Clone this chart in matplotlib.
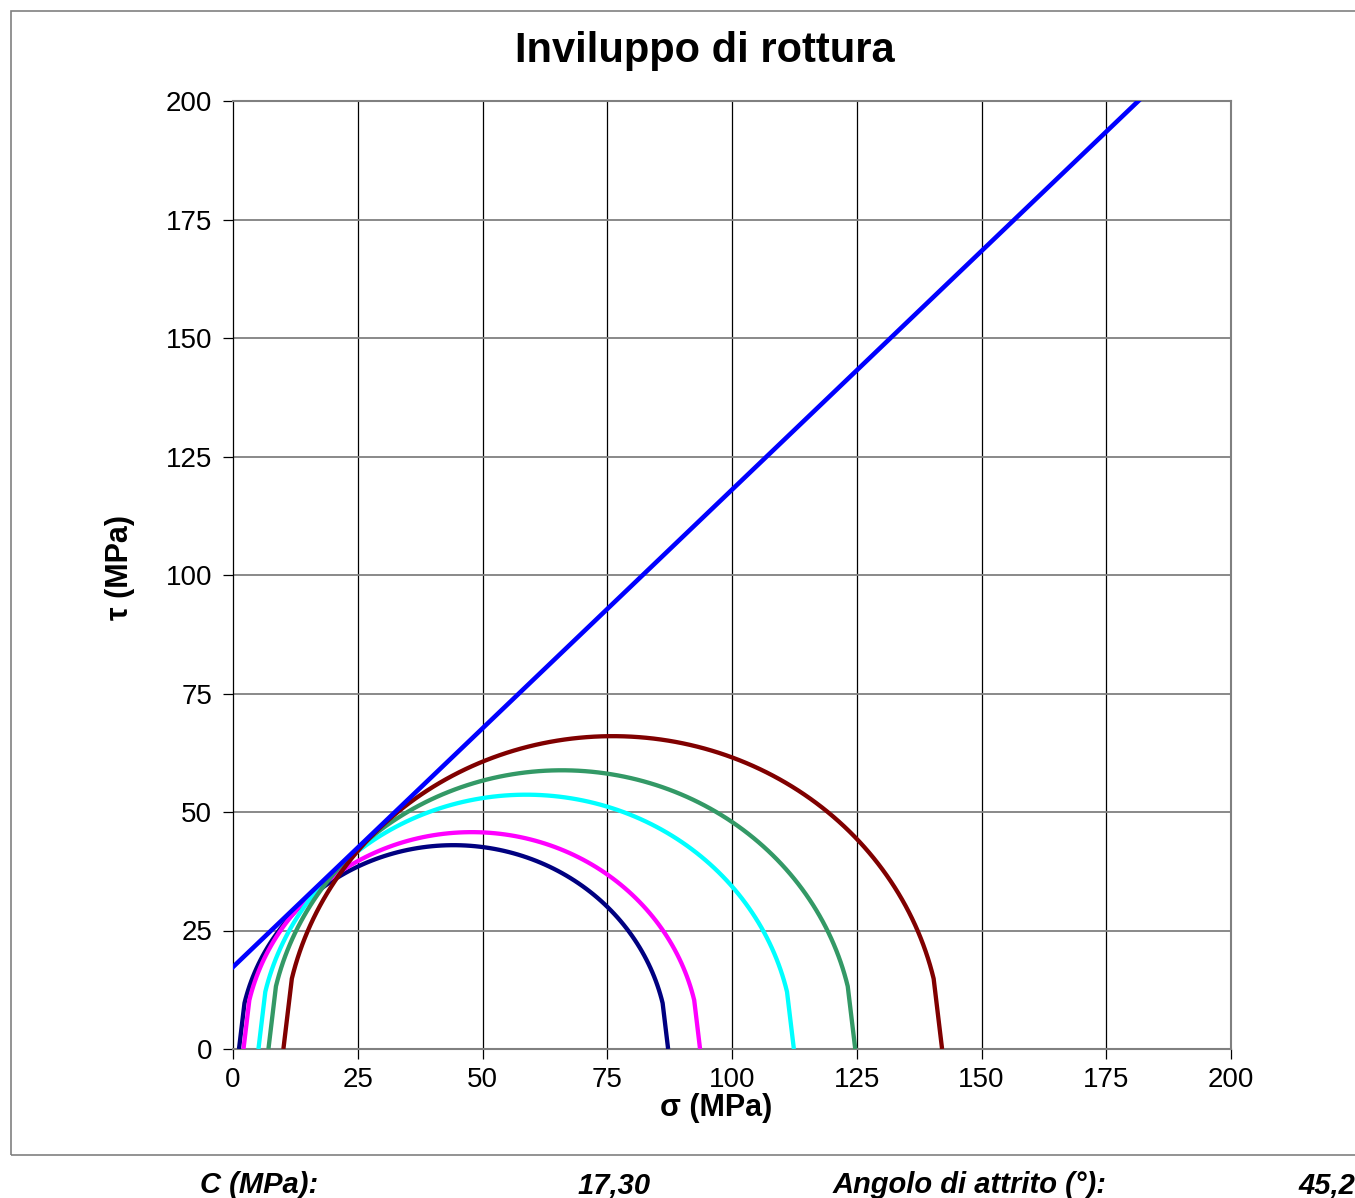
import numpy as np
import matplotlib
matplotlib.use("Agg")
import matplotlib.pyplot as plt
from matplotlib.patches import Rectangle

# Data
sigma3 = [1.2, 2.1, 5.1, 7.1, 10.1]          # MPa, left end of each Mohr circle
sigma1 = [87.2, 93.6, 112.4, 124.7, 142.1]   # MPa, right end of each Mohr circle
circle_colors = ["#000080", "#FF00FF", "#00FFFF", "#339966", "#800000"]
C_value = 17.30      # cohesion, MPa
phi_deg = 45.2       # friction angle, degrees
xticks = [0, 25, 50, 75, 100, 125, 150, 175, 200]
yticks = [0, 25, 50, 75, 100, 125, 150, 175, 200]

plt.rcParams['font.family'] = ['Liberation Sans', 'DejaVu Sans']

W, H = 1355, 1198
fig = plt.figure(figsize=(W / 100, H / 100), dpi=100)
ax = fig.add_axes([233 / W, 1 - 1049 / H, (1231 - 233) / W, (1049 - 101) / H])

# outer chart border
fig.patches.append(Rectangle((11 / W, 1 - 1155 / H), 1.2, (1155 - 11) / H,
                             transform=fig.transFigure, fill=False,
                             edgecolor="#808080", linewidth=1.2))

# grid
for x in xticks[1:]:
    ax.axvline(x, color="black", lw=0.9, zorder=1)
for y in yticks[1:]:
    ax.axhline(y, color="#808080", lw=1.3, zorder=1)

# Mohr circles: end segments straight (coarse polyline ends), smooth middle
for s3, s1, col in zip(sigma3, sigma1, circle_colors):
    c = (s1 + s3) / 2
    r = (s1 - s3) / 2
    th = np.concatenate([[0], np.linspace(np.radians(13), np.radians(167), 120), [np.pi]])
    ax.plot(c + r * np.cos(th), r * np.sin(th), color=col, lw=3.1,
            solid_capstyle="butt", solid_joinstyle="round", zorder=3)

# failure envelope
sx = np.array([0, 200])
ax.plot(sx, C_value + np.tan(np.radians(phi_deg)) * sx, color="#0000FF", lw=3.3, zorder=4)

ax.set_xlim(0, 200)
ax.set_ylim(0, 200)
ax.set_xticks(xticks)
ax.set_yticks(yticks)
ax.tick_params(direction="out", length=7, width=0.9, labelsize=20, pad=6,
               color="black")
ax.tick_params(axis="y", pad=8)
for s in ["top", "right", "bottom"]:
    ax.spines[s].set_color("#808080")
    ax.spines[s].set_linewidth(1.5)
ax.spines["left"].set_color("black")
ax.spines["left"].set_linewidth(0.9)

fig.text(705 / W, 1 - 51 / H, "Inviluppo di rottura", ha="center", va="center",
         fontsize=30, fontweight="bold")
fig.text(716 / W, 1 - 1108 / H, "σ (MPa)", ha="center", va="center",
         fontsize=22, fontweight="bold")
fig.text(120 / W, 1 - 567 / H, "τ (MPa)", ha="center", va="center",
         fontsize=22, fontweight="bold", rotation=90)

# bottom parameter row
row_y = 1 - 1185 / H
kw = dict(va="center", fontsize=21, fontweight="bold", style="italic")
fig.text(200 / W, row_y, "C (MPa):", ha="left", **kw)
fig.text(651 / W, row_y, "17,30", ha="right", **kw)
fig.text(833 / W, row_y, "Angolo di attrito (°):", ha="left", **kw)
fig.text(1298 / W, row_y, "45,2", ha="left", **kw)

fig.savefig("out.png", dpi=100)
